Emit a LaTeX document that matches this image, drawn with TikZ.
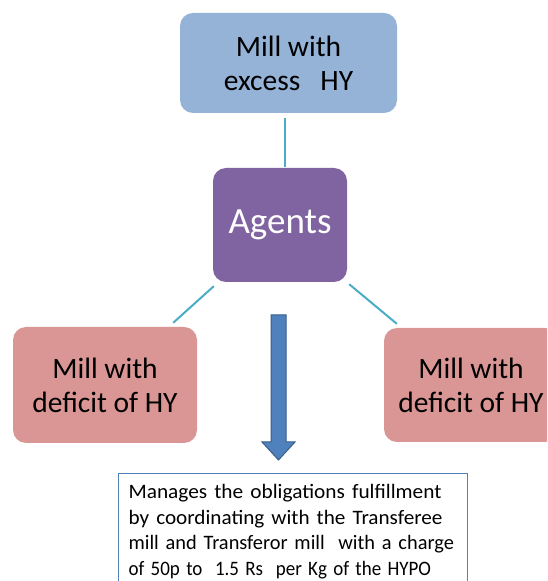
\documentclass[tikz,border=0pt]{standalone}
\usepackage{graphicx}
\usepackage{fontspec}
\setmainfont{Carlito}
\definecolor{excessblue}{HTML}{95B3D7}
\definecolor{agentpurple}{HTML}{8064A2}
\definecolor{deficitpink}{HTML}{D99694}
\definecolor{linkteal}{HTML}{4BACC6}
\definecolor{arrowblue}{HTML}{4F81BD}
\definecolor{arrowedge}{HTML}{385D8A}
\definecolor{noteblue}{HTML}{4F81BD}
% one line of the note, widened or narrowed by a factor
\newcommand{\noteline}[2]{\scalebox{#1}[1]{#2}}
\newcommand{\notefont}{\fontsize{20.5}{25.5}\selectfont
  \spaceskip=0.2em plus 1em minus 0.15em\relax}
\begin{document}
\begin{tikzpicture}[x=1pt,y=1pt,
  millbox/.style={rounded corners=13pt, inner sep=0pt, align=center,
    font=\fontsize{29.5}{34}\selectfont},
  link/.style={draw=linkteal, line width=2pt},
  blockarrow/.style={fill=arrowblue, draw=arrowedge, line width=1pt},
  notebox/.style={draw=noteblue, line width=1.2pt, anchor=north west,
    inner xsep=10pt, inner ysep=0pt, text width=329pt, align=left,
    font=\notefont},
]
\useasboundingbox (0,0) rectangle (547,581);
\clip (0,0) rectangle (547,581);

% the four boxes
\node[millbox, fill=excessblue, minimum width=217pt, minimum height=100pt]
  (top) at (288.5,518) {Mill with\\excess\ \ \ HY};
\node[millbox, fill=agentpurple, text=white, minimum width=134pt,
  minimum height=114pt, font=\fontsize{37}{44}\selectfont]
  (agents) at (280,356) {Agents};
\node[millbox, fill=deficitpink, minimum width=184pt, minimum height=116pt]
  (left) at (105,196) {Mill with\\deficit of HY};
\node[millbox, fill=deficitpink, minimum width=174pt, minimum height=114pt]
  (right) at (471,196) {Mill with\\deficit of HY};

% links between the agents and the mills
\draw[link] ([shift={(-3.5,-5)}]top.south) -- ([shift={(5,1)}]agents.north);
\draw[link] ([shift={(1,-4)}]agents.south west) -- ([shift={(-24,4)}]left.north east);
\draw[link] ([shift={(2,-2)}]agents.south east) -- ([shift={(13,4)}]right.north west);

% downward block arrow
\draw[blockarrow] (271,266) -- (286,266) -- (286,139) -- (295,139)
  -- (278.5,121) -- (262,139) -- (271,139) -- cycle;

% description of the agents' role
\node[notebox] (note) at (118,108)
  {\rule{0pt}{25pt}\noteline{1.04}{Manages the obligations fulfillment}\\
   \noteline{1.033}{by coordinating with the Transferee}\\
   \noteline{0.994}{mill and Transferor mill\ \ with a charge}\\
   \noteline{0.926}{of 50p to\ \ 1.5 Rs\ \ per Kg of the HYPO}\rule[-40pt]{0pt}{40pt}};
\end{tikzpicture}
\end{document}
